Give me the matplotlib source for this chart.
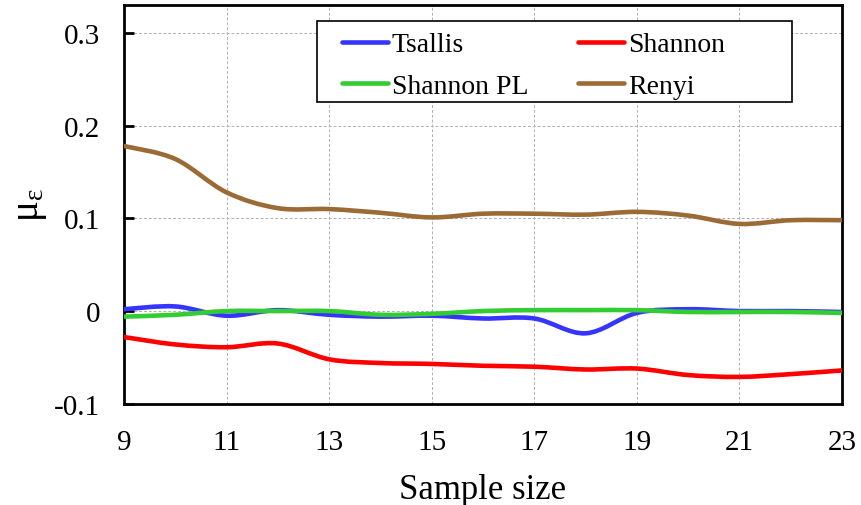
import numpy as np
import matplotlib
matplotlib.use('Agg')
import matplotlib.pyplot as plt
from matplotlib.path import Path
from matplotlib.patches import PathPatch, Rectangle
from matplotlib.lines import Line2D

plt.rcParams['font.family'] = ['Liberation Serif', 'DejaVu Serif']
plt.rcParams['mathtext.fontset'] = 'stix'

sample_size = [9, 10, 11, 12, 13, 14, 15, 16, 17, 18, 19, 20, 21, 22, 23]
tsallis = [0.002, 0.005, -0.005, 0.001, -0.004, -0.006, -0.005, -0.008, -0.008, -0.024, -0.002, 0.002, 0.0, 0.0, -0.001]
shannon = [-0.028, -0.036, -0.039, -0.035, -0.052, -0.056, -0.057, -0.059, -0.060, -0.063, -0.062, -0.069, -0.071, -0.068, -0.064]
shannon_pl = [-0.006, -0.004, 0.0, 0.0, 0.0, -0.004, -0.003, 0.0, 0.001, 0.001, 0.001, -0.001, -0.001, -0.001, -0.002]
renyi = [0.178, 0.164, 0.128, 0.111, 0.110, 0.106, 0.101, 0.105, 0.105, 0.104, 0.107, 0.103, 0.094, 0.098, 0.098]

series = [('Tsallis', tsallis, '#3535ff'), ('Shannon', shannon, '#ff0000'),
          ('Shannon PL', shannon_pl, '#33cc33'), ('Renyi', renyi, '#9c6a35')]


def smooth_path(x, y):
    # excel style smoothed line: cubic bezier through the points
    p = np.column_stack([x, y]).astype(float)
    n = len(p)
    verts = [p[0]]
    codes = [Path.MOVETO]
    for i in range(n - 1):
        p0 = p[i - 1] if i > 0 else p[i]
        p3 = p[i + 2] if i + 2 < n else p[i + 1]
        c1 = p[i] + (p[i + 1] - p0) / 6.0
        c2 = p[i + 1] - (p3 - p[i]) / 6.0
        verts += [c1, c2, p[i + 1]]
        codes += [Path.CURVE4] * 3
    return Path(verts, codes)


fig = plt.figure(figsize=(8.61, 5.06), dpi=100)
ax = fig.add_axes([0.144, 0.2, 0.834, 0.788])

handles = {}
for name, vals, col in series:
    patch = PathPatch(smooth_path(sample_size, vals), facecolor='none', edgecolor=col,
                      lw=3.3, capstyle='round', joinstyle='round', zorder=3)
    ax.add_patch(patch)
    handles[name] = Line2D([], [], color=col, lw=3.3, solid_capstyle='round', label=name)

ax.set_xlim(9, 23)
ax.set_ylim(-0.1, 0.33)
ax.set_xticks(range(9, 24, 2))
ax.set_yticks([-0.1, 0, 0.1, 0.2, 0.3])
ax.set_yticklabels(['-0.1', '0', '0.1', '0.2', '0.3'])
ax.grid(True, color='#b0b0b0', ls=(0, (3, 2)), lw=0.7)
ax.tick_params(axis='y', direction='in', length=7, width=2, labelsize=21, pad=17)
ax.tick_params(axis='x', length=0, labelsize=21, pad=18)
for s in ax.spines.values():
    s.set_linewidth(2)

ax.set_xlabel('Sample size', fontsize=25, labelpad=13)
ax.set_ylabel('$\\mathregular{μ_ε}$', fontsize=28, labelpad=4)

# legend box drawn separately so the padding can be wider than tall
ax.add_patch(Rectangle((0.269, 0.757), 0.661, 0.203, transform=ax.transAxes,
                       facecolor='white', edgecolor='black', lw=1.2, zorder=4))
# row order: Tsallis, Shannon / Shannon PL, Renyi
order = ['Tsallis', 'Shannon PL', 'Shannon', 'Renyi']
leg = ax.legend(handles=[handles[k] for k in order], ncol=2, loc='upper left',
                bbox_to_anchor=(0.3036, 0.933),
                fontsize=20, frameon=False,
                handlelength=1.65, handletextpad=0.15, columnspacing=1.8,
                labelspacing=0.58, borderpad=0, borderaxespad=0)
leg.set_zorder(5)

fig.savefig('out.png', dpi=100)
